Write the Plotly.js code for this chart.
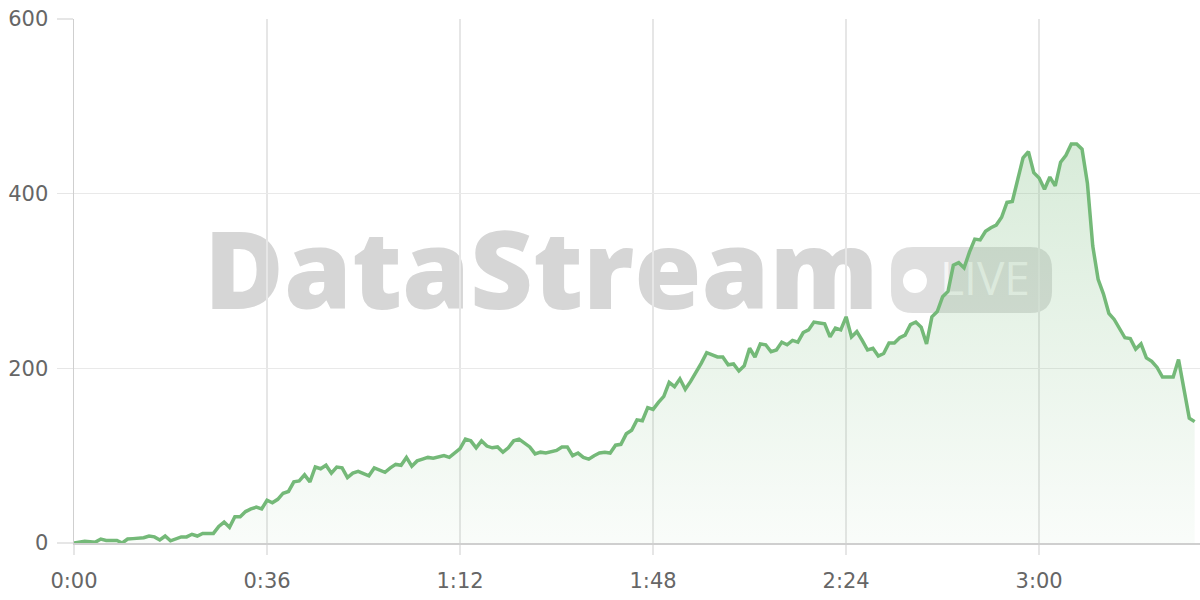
<!DOCTYPE html>
<html>
<head>
<meta charset="utf-8">
<script src="https://cdn.plot.ly/plotly-3.0.1.min.js"></script>
<style>
  html, body { margin: 0; padding: 0; background: #ffffff; }
  #chart { width: 1200px; height: 600px; }
</style>
</head>
<body>
<div id="chart"></div>
<script>
// Viewers over time (one reading per second)
const viewers = [
  0, 1, 2, 1.5, 1, 4.5, 3, 3, 3, 0,
  4.5, 5, 5, 6, 8, 7, 3.5, 8, 2.5, 5,
  7, 7, 10, 8, 11, 11, 11, 19, 24, 18,
  30, 30, 36, 39, 41, 39, 49, 46, 50, 57,
  59, 70, 71, 78, 70, 87, 85, 89, 80, 87,
  86, 75, 80, 82, 80, 77, 86, 84, 81, 86,
  90, 89, 98, 88, 94, 96, 98, 97, 98, 100,
  98, 103, 108, 119, 117, 109, 117, 111, 109, 110,
  104, 109, 117, 119, 114, 110, 102, 104, 103, 104,
  106, 110, 110, 100, 103, 98, 96, 100, 103, 104,
  103, 112, 113, 125, 129, 141, 140, 155, 153, 161,
  168, 184, 179, 188, 176, 185, 195, 206, 218, 215,
  213, 213, 204, 205, 197, 203, 223, 213, 228, 227,
  219, 221, 230, 227, 232, 230, 241, 244, 253, 252,
  251, 236, 246, 244, 259, 236, 242, 232, 221, 223,
  214, 217, 229, 229, 235, 238, 250, 253, 247, 228,
  259, 265, 282, 288, 318, 321, 315, 333, 348, 347,
  357, 361, 364, 373, 390, 391, 415, 441, 448, 424,
  418, 405, 419, 409, 436, 444, 457, 457, 451, 412,
  340, 302, 285, 263, 256, 246, 235, 234, 222, 228,
  212, 208, 201, 190, 190, 190, 210, 179, 143, 139
];
const startSecond = 0;
const secondsStep = 1;

const xTickVals = [0, 36, 72, 108, 144, 180];
const xTickText = ['0:00', '0:36', '1:12', '1:48', '2:24', '3:00'];
const yTickVals = [0, 200, 400, 600];

const watermarkText = 'DataStream';
const badgeText = 'LIVE';

const lineColor = '#74b978';

const trace = {
  type: 'scatter',
  mode: 'lines',
  x0: startSecond,
  dx: secondsStep,
  y: viewers,
  line: { color: lineColor, width: 3.5, shape: 'linear' },
  fill: 'tozeroy',
  fillgradient: {
    type: 'vertical',
    colorscale: [
      [0, 'rgba(116,185,120,0.04)'],
      [1, 'rgba(116,185,120,0.28)']
    ]
  },
  hoverinfo: 'skip'
};

const tickFont = { family: 'DejaVu Sans, sans-serif', size: 21, color: '#666666' };

const layout = {
  width: 1200,
  height: 600,
  margin: { l: 74, r: 0, t: 19, b: 57 },
  paper_bgcolor: '#ffffff',
  plot_bgcolor: 'rgba(0,0,0,0)',
  showlegend: false,
  xaxis: {
    range: [0, 210],
    tickmode: 'array',
    tickvals: xTickVals,
    ticktext: xTickText,
    tickfont: tickFont,
    showgrid: true,
    gridcolor: '#e6e6e6',
    gridwidth: 1.5,
    zeroline: false,
    showline: true,
    linecolor: '#cfcfcf',
    linewidth: 1.5,
    ticks: 'outside',
    ticklen: 10,
    tickwidth: 1.5,
    tickcolor: '#e6e6e6',
    ticklabelstandoff: 8,
    fixedrange: true
  },
  yaxis: {
    range: [0, 600],
    tickmode: 'array',
    tickvals: yTickVals,
    tickfont: tickFont,
    showgrid: true,
    gridcolor: '#e9e9e9',
    gridwidth: 1.5,
    zeroline: false,
    showline: true,
    linecolor: '#cfcfcf',
    linewidth: 1.5,
    ticks: 'outside',
    ticklen: 16,
    tickwidth: 1.5,
    tickcolor: '#e6e6e6',
    ticklabelstandoff: 4,
    fixedrange: true
  },
  shapes: [
    {
      type: 'rect', xref: 'paper', yref: 'paper', layer: 'below',
      x0: 0.117, x1: 0.713, y0: 0.427, y1: 0.599,
      line: { width: 0 }, fillcolor: 'rgba(0,0,0,0)',
      label: {
        text: watermarkText,
        textposition: 'middle center',
        font: { family: 'Open Sans, sans-serif', size: 109, color: '#d6d6d6', weight: 800 }
      }
    },
    {
      type: 'path', xref: 'paper', yref: 'paper', layer: 'below',
      path: 'M 0.7451 0.5649 L 0.8491 0.5649 Q 0.8686 0.5649 0.8686 0.5229 L 0.8686 0.4809 Q 0.8686 0.4389 0.8491 0.4389 L 0.7451 0.4389 Q 0.7256 0.4389 0.7256 0.4809 L 0.7256 0.5229 Q 0.7256 0.5649 0.7451 0.5649 Z',
      line: { width: 0 }, fillcolor: 'rgba(120,120,120,0.24)'
    },
    {
      type: 'circle', xref: 'paper', yref: 'paper', layer: 'below',
      x0: 0.7362, x1: 0.7575, y0: 0.4771, y1: 0.5229,
      line: { width: 0 }, fillcolor: '#ffffff'
    },
    {
      type: 'rect', xref: 'paper', yref: 'paper', layer: 'below',
      x0: 0.7602, x1: 0.8579, y0: 0.4542, y1: 0.5496,
      line: { width: 0 }, fillcolor: 'rgba(0,0,0,0)',
      label: {
        text: badgeText,
        textposition: 'middle center',
        font: { family: 'Open Sans, sans-serif', size: 46, color: 'rgba(255,255,255,0.7)' }
      }
    }
  ]
};

Plotly.newPlot('chart', [trace], layout, { displayModeBar: false, staticPlot: true });
</script>
</body>
</html>
